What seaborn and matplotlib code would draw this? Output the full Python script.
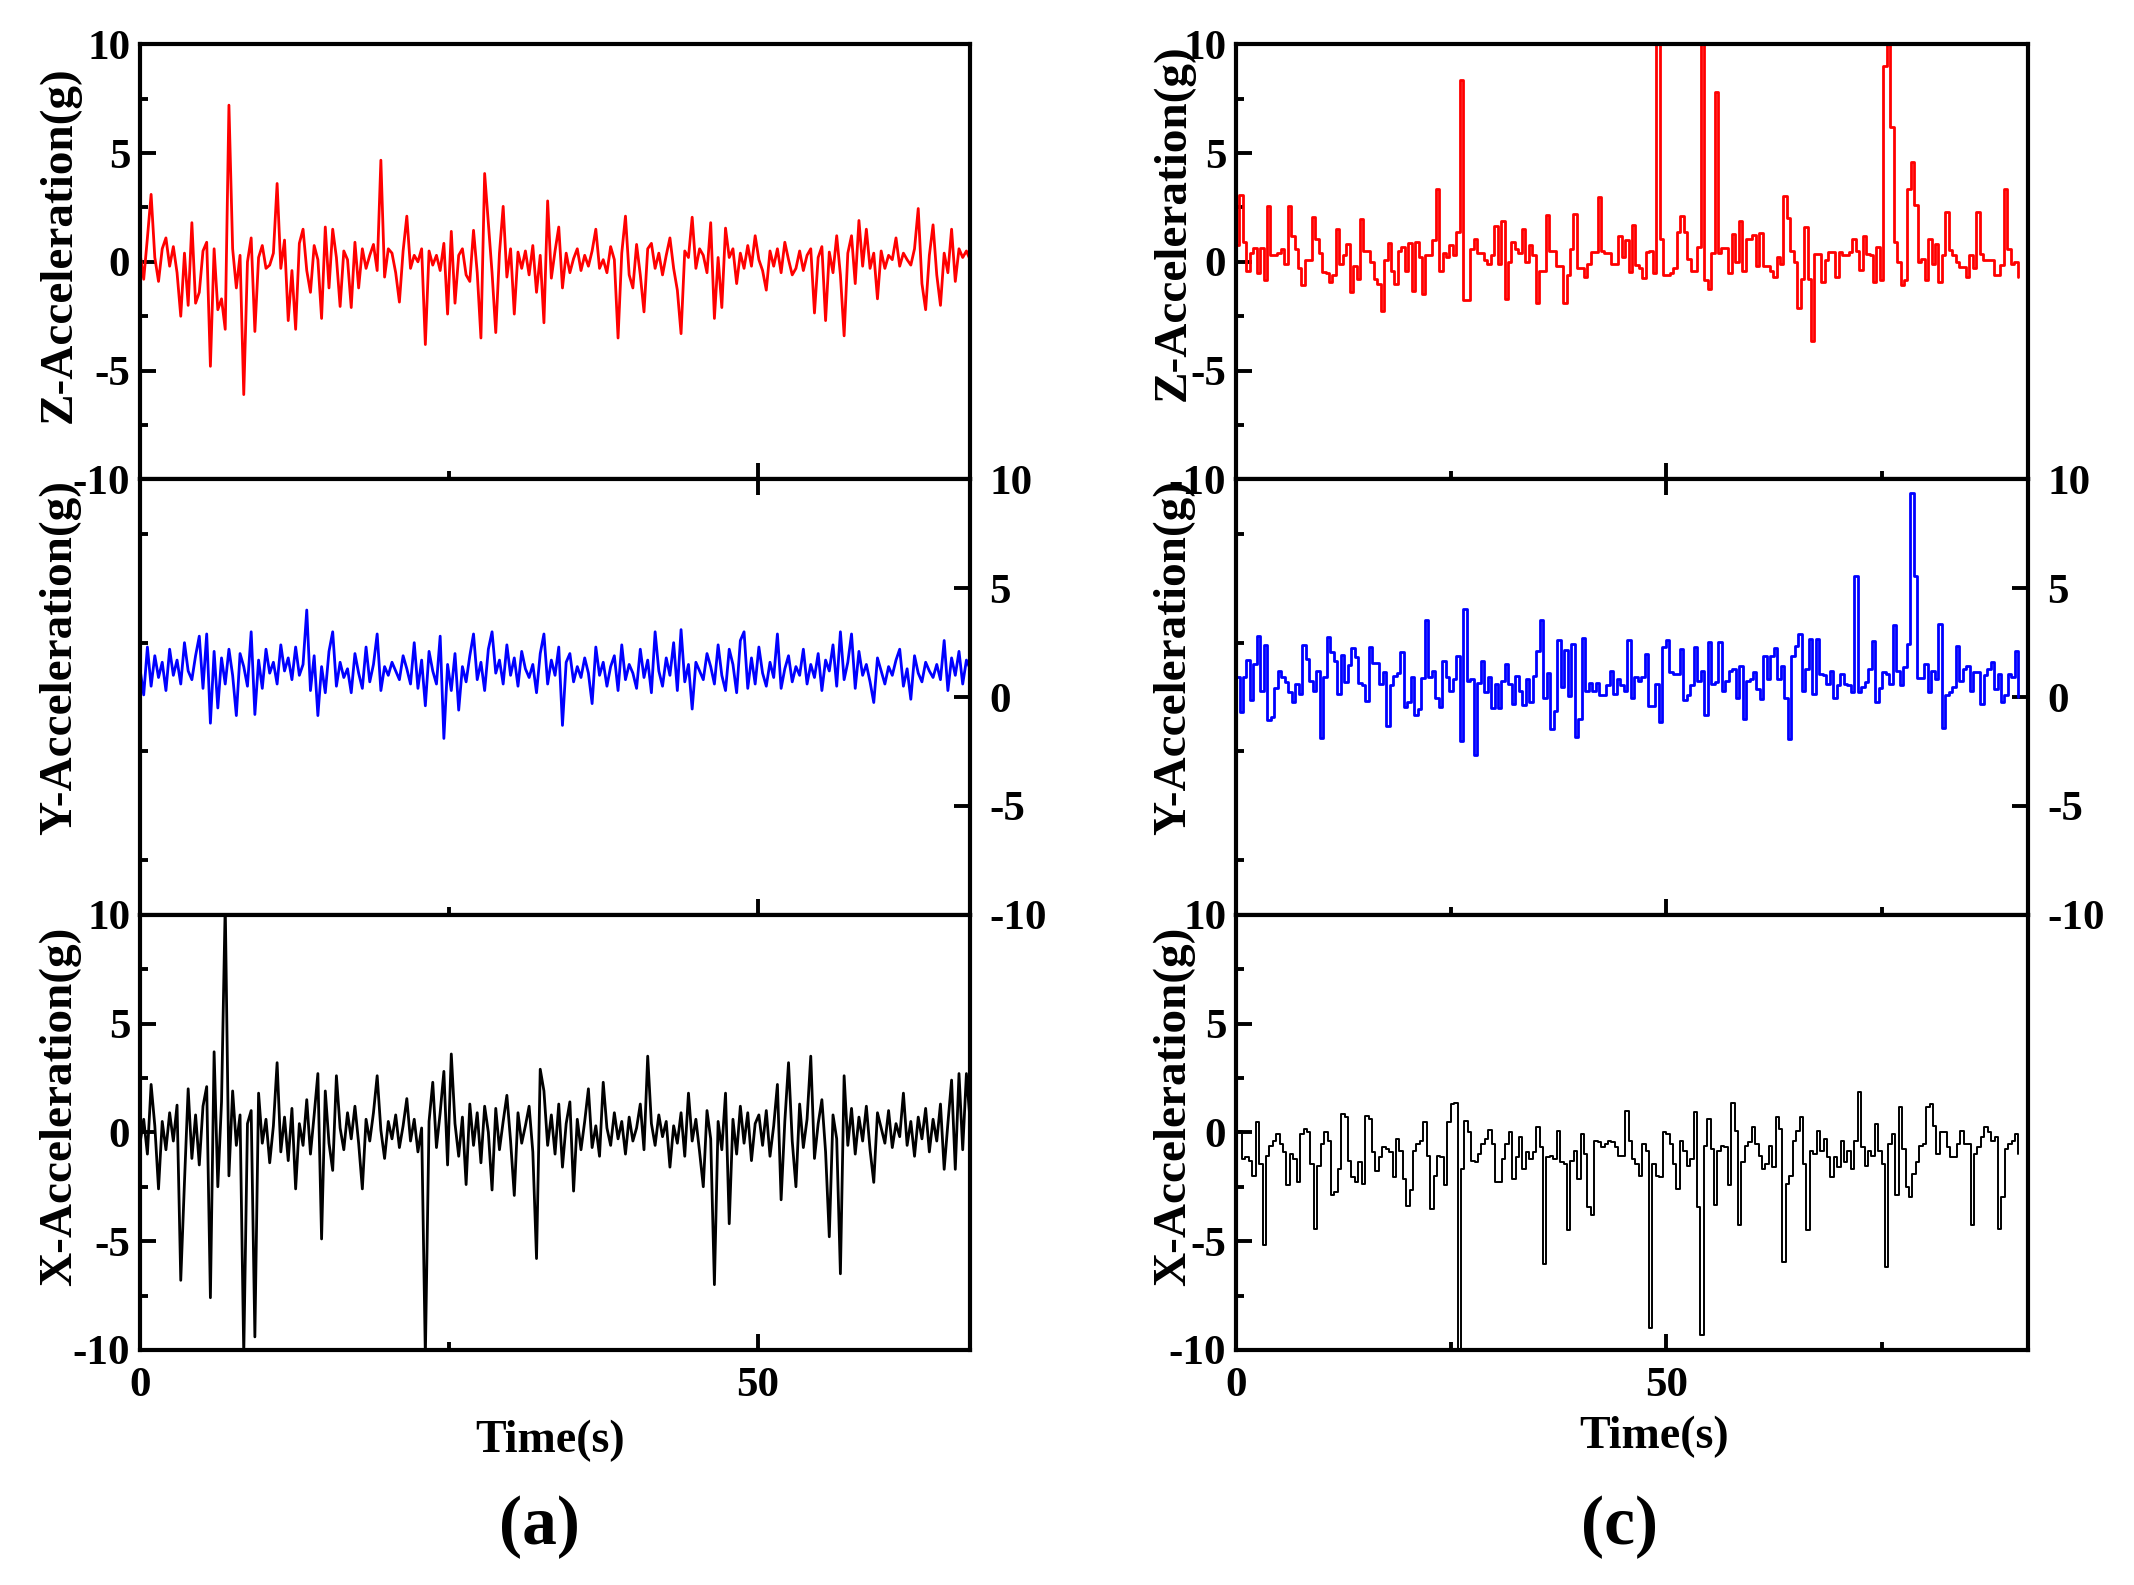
#!/usr/bin/env python3
"""Tri-axial acceleration records, panels (a) and (c)."""
import numpy as np
import matplotlib
matplotlib.use("Agg")
import matplotlib.pyplot as plt
from matplotlib.ticker import MultipleLocator
import seaborn as sns

# ---- panel (a): dense records, one sample every DT_A seconds ----
DT_A = 0.3
z_a = [
    0.4, -0.8, 1.1, 3.1, 0.2, -0.9, 0.6, 1.1, -0.2, 0.7, -0.5, -2.5, 0.4, -2.0, 1.8,
    -1.9, -1.4, 0.5, 0.9, -4.8, 0.6, -2.2, -1.7, -3.1, 7.2, 0.6, -1.2, 0.3, -6.1, 0.0,
    1.1, -3.2, 0.2, 0.75, -0.3, -0.15, 0.4, 3.6, -0.3, 1.0, -2.7, -0.4, -3.1, 0.85, 1.5,
    -0.4, -1.4, 0.75, 0.1, -2.6, 1.6, -1.2, 1.5, 0.2, -2.05, 0.5, 0.1, -2.1, 0.9, -1.2,
    0.6, -0.3, 0.3, 0.8, -0.4, 4.67, -0.7, 0.6, 0.4, -0.5, -1.85, 0.5, 2.1, -0.3, 0.3,
    0.0, 0.6, -3.8, 0.5, -0.15, 0.3, -0.4, 0.85, -2.4, 1.4, -1.9, 0.3, 0.6, -0.6, -0.9,
    1.45, -0.5, -3.5, 4.06, 1.8, -0.5, -3.25, 0.4, 2.55, -0.7, 0.6, -2.4, 0.45, -0.3, 0.5,
    -0.6, 0.75, -1.4, 0.3, -2.8, 2.8, -0.75, 0.5, 1.6, -1.2, 0.4, -0.5, 0.15, 0.6, -0.4,
    0.3, -0.2, 0.5, 1.5, -0.3, 0.1, -0.5, 0.7, 0.1, -3.5, 0.4, 2.1, -0.6, -1.2, 0.8,
    -0.6, -2.3, 0.6, 0.85, -0.3, 0.4, -0.6, 0.3, 1.1, -0.3, -1.3, -3.3, 0.5, 0.2, 2.05,
    -0.3, 0.6, 0.3, -0.5, 1.8, -2.6, 0.2, -2.1, 1.55, 0.2, 0.6, -1.0, 0.4, -0.3, 0.75,
    -0.2, 1.2, 0.1, -0.4, -1.3, 0.5, -0.2, 0.6, -0.5, 0.9, 0.1, -0.6, -0.3, 0.5, -0.4,
    0.3, 0.6, -2.35, 0.2, 0.7, -2.7, 0.45, -0.5, 1.2, -0.6, -3.4, 0.4, 1.2, -1.0, 1.9,
    -0.2, 1.5, -0.3, 0.4, -1.7, 0.5, -0.3, 0.3, 0.1, 1.1, -0.2, 0.4, 0.1, -0.15, 0.6,
    2.45, -1.0, -2.2, 0.3, 1.7, -0.6, -2.0, 0.4, -0.5, 1.5, -0.9, 0.6, 0.2, 0.5, 0.1,
]
y_a = [
    1.3, 0.1, 2.3, 0.5, 1.9, 0.9, 1.6, 0.3, 2.2, 1.0, 1.7, 0.6, 2.5, 1.2, 0.8,
    1.9, 2.8, 0.4, 2.9, -1.2, 2.1, -0.5, 1.8, 0.6, 2.2, 1.0, -0.85, 2.0, 1.4, 0.5,
    3.0, -0.8, 1.7, 0.4, 2.2, 1.1, 1.6, 0.6, 2.4, 1.2, 1.8, 0.8, 2.3, 1.0, 1.5,
    4.0, 0.3, 1.9, -0.85, 1.4, 0.2, 2.1, 3.0, 0.5, 1.6, 0.9, 1.3, 0.2, 2.0, 1.1,
    0.4, 2.3, 0.7, 1.5, 2.9, 0.3, 1.4, 1.0, 1.6, 1.2, 0.8, 1.9, 1.3, 0.6, 2.5,
    0.4, 1.7, -0.4, 2.1, 1.2, 0.6, 2.8, -1.9, 1.5, 0.3, 2.0, -0.6, 1.4, 0.7, 1.9,
    2.9, 0.8, 1.6, 0.3, 2.2, 3.0, 1.1, 1.7, 0.6, 2.4, 1.0, 1.8, 0.5, 2.1, 1.3,
    0.9, 1.5, 0.2, 2.0, 2.9, 0.6, 1.7, 1.0, 2.3, -1.3, 1.6, 2.0, 0.7, 1.4, 0.9,
    1.8, 1.1, -0.3, 2.3, 1.0, 1.6, 0.5, 1.4, 1.9, 0.3, 2.4, 0.8, 1.5, 1.1, 0.4,
    2.2, 0.9, 1.7, 0.2, 3.0, 1.2, 0.5, 1.8, 1.0, 2.5, 0.3, 3.1, 0.7, 1.5, -0.55,
    1.6, 1.2, 0.8, 2.0, 1.4, 0.6, 2.4, 1.0, 0.3, 2.2, 1.5, 0.2, 2.6, 3.0, 0.4,
    1.8, 0.6, 2.3, 1.1, 0.5, 1.6, 0.9, 2.9, 0.4, 1.3, 1.9, 0.7, 1.4, 1.0, 2.2,
    0.6, 1.5, 0.9, 2.0, 0.3, 1.7, 1.2, 2.4, 0.5, 3.0, 0.8, 1.6, 2.9, 0.4, 2.1,
    1.0, 1.5, 0.7, -0.25, 1.8, 1.2, 0.6, 1.4, 1.0, 1.7, 2.2, 0.5, 1.3, -0.1, 1.9,
    1.1, 0.7, 1.6, 1.2, 0.9, 1.5, 0.8, 2.6, 0.3, 1.8, 1.0, 2.1, 0.6, 1.7, 1.3,
]
x_a = [
    -0.5, 0.6, -1.0, 2.2, 0.3, -2.6, 0.5, -0.8, 0.9, -0.4, 1.25, -6.8, -2.3, 2.0, -1.2,
    0.8, -1.5, 1.2, 2.1, -7.6, 3.7, -2.5, 1.4, 10.5, -2.0, 1.9, -0.6, 0.8, -10.2, 0.4,
    1.0, -9.4, 1.8, -0.5, 0.6, -1.4, 0.3, 3.2, -0.9, 0.7, -1.3, 1.1, -2.6, 0.4, -0.6,
    1.5, -1.0, 0.8, 2.7, -4.9, 1.9, -0.5, -1.75, 2.6, 0.2, -0.8, 0.9, -0.3, 1.2, -0.5,
    -2.6, 0.6, -0.4, 0.9, 2.6, 0.1, -1.2, 0.5, -0.3, 0.8, -0.7, 0.3, 1.55, -0.4, 0.6,
    -0.9, 0.2, -10.3, 0.5, 2.3, -0.7, 0.9, 2.8, -1.5, 3.6, 0.4, -1.1, 0.7, -2.4, 1.3,
    -0.6, 0.9, -1.4, 1.2, 0.0, -2.65, 1.1, -0.8, 0.5, 1.7, -0.4, -2.9, 0.9, -0.5, 0.3,
    1.2, -0.9, -5.8, 2.9, 1.9, -0.6, 0.8, -1.0, 1.3, -1.6, 0.4, 1.4, -2.7, 0.6, -0.8,
    0.5, 2.0, -0.7, 0.3, -1.1, 2.3, 0.2, -0.6, 0.9, -0.3, 0.5, -1.0, 0.7, -0.4, 0.2,
    1.3, -0.8, 3.5, 0.4, -0.6, 0.8, -0.2, 0.5, -1.6, 0.3, -0.5, 0.9, -1.1, 1.8, -0.4,
    0.6, -0.9, -2.5, 1.0, -0.3, -7.0, 0.5, -0.8, 1.8, -4.2, 0.6, -1.0, 1.2, -0.5, 0.9,
    -1.3, 0.4, 0.8, -0.6, 1.0, -1.1, 0.3, 2.2, -3.1, 0.5, 3.2, -0.4, -2.5, 1.3, -0.7,
    0.6, 3.5, -1.2, 0.4, 1.5, -0.9, -4.8, 0.8, -0.3, -6.5, 2.6, -0.6, 1.1, -1.0, 0.7,
    -0.4, 1.2, -0.8, -2.3, 0.9, 0.2, -0.5, 1.0, -0.7, 0.4, -0.2, 1.8, -0.6, 0.5, -1.1,
    0.7, -0.3, 1.1, -0.9, 0.6, -0.4, 1.3, -1.7, 0.4, 2.4, -1.7, 2.7, -0.8, 2.7, 0.5,
]

# ---- panel (c): held (stepped) records, start/end time of each in seconds ----
z_c_span = (0.0, 90.8)
z_c = [
    0.77, 3.07, 0.9, -0.4, 0.4, 0.65, -0.5, 0.65, -0.85, 2.56, 0.3, 0.3,
    0.4, 0.6, -0.1, 2.56, 1.2, 0.6, -0.3, -1.07, 0.1, 0.1, 2.07, 1.07,
    0.4, -0.46, -0.5, -0.92, -0.6, 1.53, -0.1, 0.3, 0.84, -1.38, -0.2, -0.8,
    1.95, 0.5, 0.5, 0.0, -0.77, -1.0, -2.27, 0.1, 0.85, -0.4, -1.0, 0.5,
    0.7, -0.4, 0.87, -1.35, 0.9, 0.2, -1.49, 0.3, 0.3, 1.0, 3.37, -0.4,
    0.4, 0.2, 0.77, 0.3, 1.38, 8.36, -1.76, -1.76, 0.6, 1.03, 0.4, 0.4,
    0.1, -0.1, 0.3, 1.64, -0.1, 1.87, -1.73, 0.0, 0.9, 0.6, 0.4, 1.53,
    0.0, 0.77, 0.3, -1.89, -0.4, -0.4, 2.15, 0.5, 0.5, -0.2, -0.2, -1.89,
    -0.6, 0.6, 2.18, -0.3, -0.3, -0.7, -0.1, 0.45, 0.45, 2.96, 0.5, 0.4,
    0.4, -0.1, -0.1, 1.18, 0.2, 1.0, -0.46, 1.69, -0.15, -0.3, -0.74, 0.45,
    0.5, -0.5, 10.5, 1.07, -0.6, -0.6, -0.5, -0.3, 1.38, 2.1, 1.38, 0.15,
    -0.4, -0.4, 0.69, 10.5, -0.85, -1.23, 0.4, 7.82, 0.4, 0.65, 0.65, -0.5,
    1.3, 0.0, 1.87, -0.4, 1.07, 1.07, 1.23, -0.2, 1.33, -0.2, -0.2, -0.4,
    -0.7, 0.2, -0.08, 3.02, 2.0, 0.5, 0.0, -2.12, -0.77, 1.61, -0.77, -3.65,
    0.38, 0.38, -0.92, 0.1, 0.45, 0.45, -0.7, 0.45, 0.3, 0.3, 0.45, 1.03,
    0.5, -0.38, 1.18, 0.38, 0.3, -0.92, 0.69, -0.85, 9.0, 10.5, 6.2, 0.9,
    0.0, -1.07, -0.85, 3.37, 4.6, 2.6, 0.0, 0.15, -0.85, 1.07, -0.08, 0.84,
    -0.92, 0.3, 2.3, 0.54, 0.3, 0.0, -0.23, -0.23, -0.69, 0.3, -0.3, 2.3,
    0.38, 0.1, 0.1, 0.1, -0.6, -0.6, -0.15, 3.37, 0.6, -0.08, 0.0, -0.7,
]
y_c_span = (0.0, 90.9)
y_c = [
    0.9, -0.7, 0.9, 1.7, -0.15, 1.5, 2.8, 0.3, 2.4, -1.07, -0.9, 0.4, 1.22, 0.9, 0.7,
    0.23, -0.23, 0.6, 0.15, 2.4, 1.76, 0.76, 0.3, 1.22, -1.88, 0.9, 2.78, 2.06, 1.68, 0.15,
    1.94, 0.7, 1.48, 2.25, 1.83, 0.66, 0.54, -0.2, 2.3, 1.56, 1.56, 0.6, 1.15, -1.33, 0.54,
    0.96, 1.1, 2.06, -0.46, -0.23, 0.9, -0.84, -0.57, 0.87, 3.55, 0.9, 1.18, -0.05, -0.46, 1.68,
    0.9, 0.3, 0.84, 1.9, -2.03, 4.05, 0.76, 0.84, -2.65, 0.66, 1.65, 0.23, 0.9, -0.5, 0.6,
    -0.5, 0.76, 1.5, 0.6, -0.3, 0.95, 0.3, -0.38, 0.84, -0.23, 0.96, 2.14, 3.55, -0.05, 1.1,
    -1.48, -0.66, 2.63, 0.46, 2.17, 0.03, 2.45, -1.83, -1.02, 2.72, 0.3, 0.66, 0.26, 0.64, 0.08,
    0.1, 0.54, 1.22, 0.15, 0.84, 0.54, 0.3, 2.63, -0.05, 0.9, 0.76, 0.9, 2.0, -0.43, -0.43,
    0.6, -1.15, 2.3, 2.63, 1.15, 1.04, 1.07, 2.2, -0.15, 0.08, 0.54, 2.3, 0.72, 1.22, -0.84,
    2.52, 0.6, 0.7, 2.52, 0.3, 0.76, 1.22, 1.3, -0.05, 1.45, -1.0, 0.76, 0.84, 1.15, 0.38,
    -0.08, 1.9, 0.84, 1.9, 2.25, 0.84, 1.45, -0.05, -1.91, 1.9, 2.37, 2.9, 0.3, 1.3, 2.68,
    0.15, 2.68, 1.07, 1.0, 0.6, 1.22, -0.05, 0.57, 1.04, 0.6, 0.54, 0.23, 5.58, 0.23, 0.46,
    0.7, 1.3, 2.57, -0.23, 0.41, 1.15, 1.07, 0.6, 3.29, 1.22, 0.54, 1.38, 2.45, 9.37, 5.58,
    0.87, 0.87, 1.53, 0.23, 1.22, 0.84, 3.36, -1.42, 0.08, 0.23, 0.46, 2.37, 0.76, 1.3, 1.45,
    0.3, 1.15, 1.15, -0.3, 1.0, 1.3, 1.6, 0.38, 1.07, -0.23, 0.08, 1.07, 0.9, 2.14, 0.0,
]
x_c_span = (0.3, 90.9)
x_c = [
    0.08, -1.22, -1.15, -1.3, -2.0, 0.46, -1.45, -5.16, -1.07, -0.61, -0.38, -0.08, -0.53, -0.92, -2.44,
    -1.0, -1.22, -2.29, -0.08, 0.15, 0.0, -1.45, -4.43, -1.53, -0.53, 0.0, -0.38, -2.9, -2.75, -1.68,
    0.84, 0.69, -1.3, -2.06, -2.29, -1.37, -2.37, 0.76, 0.61, -0.92, -1.76, -1.15, -0.69, -0.76, -0.92,
    -2.06, -0.31, -0.84, -2.14, -3.4, -2.67, -0.84, -0.53, -0.38, 0.46, -1.07, -3.51, -2.0, -1.07, -1.15,
    -2.4, 0.46, 1.3, 1.34, -10.3, -1.68, 0.53, 0.0, -1.3, -1.37, -1.0, -0.53, -0.31, 0.11, -0.53,
    -2.29, -2.29, -1.22, -0.53, 0.0, -2.14, -1.15, -0.23, -1.68, -0.92, -1.22, -0.92, 0.23, -0.69, -6.03,
    -1.15, -1.07, -1.22, 0.08, -1.37, -1.45, -4.5, -1.3, -0.84, -2.14, -0.08, -1.0, -3.43, -3.82, -0.38,
    -0.46, -0.69, -0.53, -0.38, -0.46, -0.69, -1.07, -1.07, 0.99, -0.38, -1.22, -1.45, -2.0, -0.53, -0.84,
    -9.0, -1.45, -2.0, -2.06, 0.0, -0.08, -0.53, -1.45, -2.6, -0.38, -0.84, -1.53, -1.22, 0.92, -3.43,
    -9.3, -0.61, 0.61, -0.76, -3.36, -0.84, -0.61, -0.69, -2.44, 1.33, 0.08, -4.27, -1.37, -0.61, -0.46,
    0.23, -0.53, -1.07, -1.68, -1.45, -0.61, -1.6, 0.69, 0.15, -5.95, -2.37, -2.0, -0.38, 0.08, 0.69,
    -1.45, -4.5, -0.84, -1.0, 0.08, -0.84, -0.31, -1.15, -2.06, -1.15, -1.6, -0.38, -1.37, -0.84, -1.68,
    -0.38, 1.83, -0.69, -1.53, -0.84, -1.07, 0.38, -0.84, -1.45, -6.18, -0.53, -0.08, -2.9, 1.15, -0.76,
    -2.52, -2.98, -1.91, -1.37, -0.61, -0.53, 1.15, 1.3, 0.31, -1.0, 0.0, 0.0, -0.69, -1.15, -1.15,
    -0.53, 0.08, -0.53, -0.53, -4.27, -1.0, -0.69, -0.23, 0.23, 0.0, -0.38, -0.23, -4.43, -2.98, -0.76,
    -0.53, -0.38, -0.08, -1.0,
]

XMAX_A = 67.2
XMAX_C = 92.0
ylabels = ["Z-Acceleration(g)", "Y-Acceleration(g)", "X-Acceleration(g)"]
colors = ["#ff0000", "#0000ff", "#000000"]

sns.set_theme(style="ticks")
plt.rcParams["font.family"] = ["Liberation Serif", "DejaVu Serif"]
plt.rcParams["font.weight"] = "bold"
plt.rcParams["axes.labelweight"] = "bold"
plt.rcParams["axes.unicode_minus"] = False

fig = plt.figure(figsize=(21.34, 15.85), dpi=100)
fig.patch.set_facecolor("white")

H = 0.2746
BOTTOMS = [0.1483 + 2 * H, 0.1483 + H, 0.1483]
COLS = {"a": (0.0656, 0.389), "c": (0.5792, 0.3711)}


def style_axes(ax, xmax, row, ylabel, label_x, label_y):
    ax.set_facecolor("white")
    ax.set_xlim(0, xmax)
    ax.set_ylim(-10, 10)
    ax.xaxis.set_major_locator(MultipleLocator(50))
    ax.xaxis.set_minor_locator(MultipleLocator(25))
    ax.yaxis.set_major_locator(MultipleLocator(5))
    ax.yaxis.set_minor_locator(MultipleLocator(2.5))
    for sp in ax.spines.values():
        sp.set_visible(True)
        sp.set_linewidth(3.0)
        sp.set_color("black")
    ax.tick_params(which="both", direction="in", width=2.8, color="black",
                   labelsize=31, labelcolor="black")
    ax.tick_params(which="major", length=11.5)
    ax.tick_params(which="minor", length=5.8)
    ax.tick_params(axis="x", bottom=True, top=(row == 1),
                   labelbottom=(row == 2), pad=12)
    if row == 1:
        ax.tick_params(axis="y", left=False, right=True,
                       labelleft=False, labelright=True, pad=14)
    else:
        ax.tick_params(axis="y", left=True, right=False,
                       labelleft=True, labelright=False, pad=7)
    ax.grid(False)
    ax.set_xlabel("")
    ax.set_ylabel(ylabel, fontsize=34, fontweight="bold", color="black")
    ax.yaxis.set_label_position("left")
    ax.yaxis.set_label_coords(label_x, label_y)


# panel (a)
t_a = np.arange(len(z_a)) * DT_A
label_y_a = [0.54, 0.59, 0.56]
for row, vals in enumerate([z_a, y_a, x_a]):
    x0, w = COLS["a"]
    ax = fig.add_axes([x0, BOTTOMS[row], w, H])
    sns.lineplot(x=t_a, y=vals, ax=ax, color=colors[row], linewidth=2.0,
                 estimator=None, sort=False)
    style_axes(ax, XMAX_A, row, ylabels[row], -0.071, label_y_a[row])
    if row == 2:
        ax.set_xlabel("Time(s)", fontsize=33, fontweight="bold", color="black")
        ax.xaxis.set_label_coords(0.494, -0.16)

# panel (c)
label_y_c = [0.59, 0.59, 0.56]
spans = [z_c_span, y_c_span, x_c_span]
widths_c = [2.0, 2.0, 1.4]
for row, vals in enumerate([z_c, y_c, x_c]):
    x0, w = COLS["c"]
    ax = fig.add_axes([x0, BOTTOMS[row], w, H])
    t_c = np.linspace(spans[row][0], spans[row][1], len(vals))
    sns.lineplot(x=t_c, y=vals, ax=ax, color=colors[row], linewidth=widths_c[row],
                 estimator=None, sort=False, drawstyle="steps-post")
    style_axes(ax, XMAX_C, row, ylabels[row], -0.052, label_y_c[row])
    if row == 2:
        ax.set_xlabel("Time(s)", fontsize=33, fontweight="bold", color="black")
        ax.xaxis.set_label_coords(0.528, -0.15)

fig.text(0.2526, 0.0366, "(a)", ha="center", va="center", fontsize=50,
         fontweight="bold", color="black")
fig.text(0.759, 0.0366, "(c)", ha="center", va="center", fontsize=50,
         fontweight="bold", color="black")

fig.savefig("out.png", dpi=100, facecolor="white")
plt.close(fig)
